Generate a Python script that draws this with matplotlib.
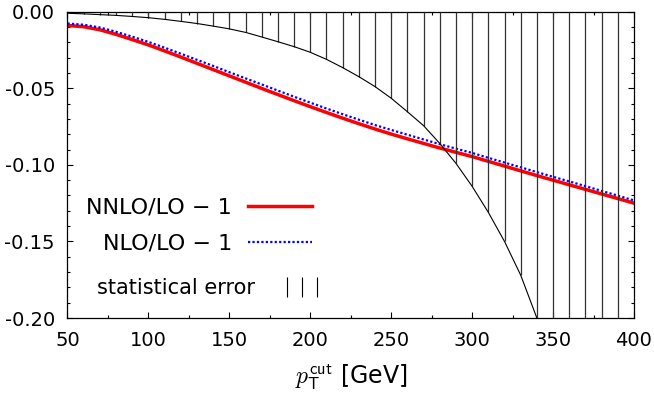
import matplotlib
matplotlib.use("Agg")
import matplotlib.pyplot as plt
from matplotlib.lines import Line2D
from matplotlib.ticker import MultipleLocator, FormatStrFormatter

plt.rcParams['axes.unicode_minus'] = False
plt.rcParams['mathtext.fontset'] = 'cm'

# Dados (pT cut em GeV)
pt = [50, 60, 70, 80, 90, 100, 110, 120, 130, 140, 150, 160, 170, 180, 190,
      200, 210, 220, 230, 240, 250, 260, 270, 280, 290, 300, 310, 320, 330,
      340, 350, 360, 370, 380, 390, 400]

nnlo = [-0.0090, -0.0098, -0.0118, -0.0148, -0.0182, -0.0217, -0.0256, -0.0296,
        -0.0337, -0.0378, -0.0419, -0.0460, -0.0501, -0.0541, -0.0581, -0.0620,
        -0.0658, -0.0695, -0.0731, -0.0766, -0.0799, -0.0830, -0.0860, -0.0890,
        -0.0918, -0.0946, -0.0977, -0.1008, -0.1039, -0.1070, -0.1100, -0.1130,
        -0.1160, -0.1190, -0.1220, -0.1250]

nlo = [-0.0077, -0.0085, -0.0103, -0.0131, -0.0163, -0.0197, -0.0235, -0.0274,
       -0.0314, -0.0354, -0.0395, -0.0435, -0.0475, -0.0515, -0.0555, -0.0594,
       -0.0632, -0.0669, -0.0705, -0.0740, -0.0772, -0.0803, -0.0834, -0.0865,
       -0.0894, -0.0922, -0.0954, -0.0985, -0.1016, -0.1047, -0.1078, -0.1108,
       -0.1139, -0.1170, -0.1201, -0.1232]

# erro estatistico (abaixo de -0.20 fica fora do grafico)
stat_err = [-0.0010, -0.0014, -0.0019, -0.0024, -0.0031, -0.0039, -0.0050, -0.0063,
            -0.0077, -0.0094, -0.0112, -0.0135, -0.0165, -0.0196, -0.0228, -0.0265,
            -0.0311, -0.0365, -0.0424, -0.0489, -0.0565, -0.0653, -0.0744, -0.0860,
            -0.0990, -0.1140, -0.1310, -0.1500, -0.1720, -0.2000, -0.2350, -0.2750,
            -0.3200, -0.3700, -0.4300, -0.4900]

labels = ['NNLO/LO − 1', 'NLO/LO − 1', 'statistical error']

fig = plt.figure(figsize=(6.54, 3.93), dpi=100)
ax = fig.add_axes([0.1032, 0.1908, 0.8662, 0.7794])

# hachura vertical do erro estatistico
ax.vlines(pt[1:-1], stat_err[1:-1], 0, colors='0.2', linewidth=0.9, zorder=3)
ax.plot(pt, stat_err, color='black', linewidth=0.8, zorder=3)

ax.plot(pt, nnlo, color='#ff0000', linewidth=2.5, zorder=2)
ax.plot(pt, nlo, color='#0000ff', linewidth=1.6, linestyle=(0, (1, 1)), zorder=2)

ax.set_xlim(50, 400)
ax.set_ylim(-0.20, 0.0)
ax.xaxis.set_major_locator(MultipleLocator(50))
ax.xaxis.set_minor_locator(MultipleLocator(25))
ax.yaxis.set_major_locator(MultipleLocator(0.05))
ax.yaxis.set_minor_locator(MultipleLocator(0.01))
ax.yaxis.set_major_formatter(FormatStrFormatter('%.2f'))
ax.tick_params(which='both', direction='in', top=True, right=True, labelsize=14, pad=9)
ax.tick_params(which='major', length=4.3, width=0.8)
ax.tick_params(which='minor', length=2.4, width=0.8)
for s in ax.spines.values():
    s.set_linewidth(0.9)

ax.set_xlabel(r'$p_{\mathsf{T}}^{\mathsf{cut}}$ [GeV]', fontsize=17, labelpad=10)

# legenda no estilo gnuplot (texto a esquerda, amostra a direita)
h_nnlo = Line2D([], [], color='#ff0000', linewidth=2.5)
h_nlo = Line2D([], [], color='#0000ff', linewidth=1.6, linestyle=(0, (1, 1)))
leg1 = ax.legend([h_nnlo, h_nlo], labels[:2], loc='center right',
                 bbox_to_anchor=(0.4316, 0.302), frameon=False, markerfirst=False,
                 fontsize=16, handlelength=2.88, handletextpad=0.72,
                 labelspacing=0.7, borderpad=0, borderaxespad=0)
ax.add_artist(leg1)

h_stat = Line2D([], [], linestyle='none', marker='|', markersize=15,
                markeredgewidth=0.8, color='black')
ax.legend([h_stat], labels[2:], loc='center right', bbox_to_anchor=(0.452, 0.098),
          frameon=False, markerfirst=False, fontsize=15, numpoints=3,
          handlelength=2.05, handletextpad=1.25, borderpad=0, borderaxespad=0)

fig.savefig('out.png', dpi=100)
